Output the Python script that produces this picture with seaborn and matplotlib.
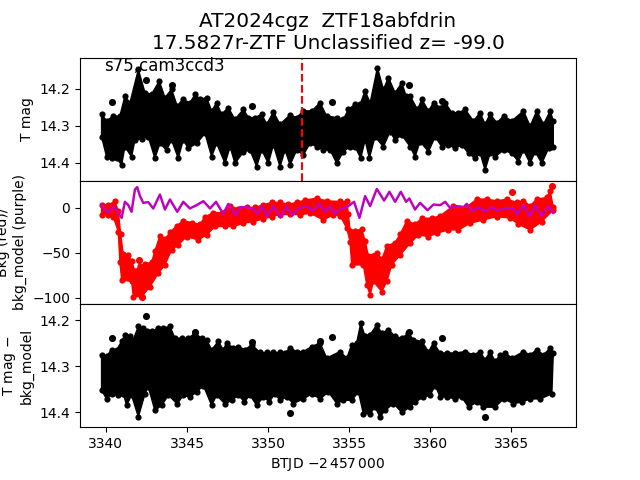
import numpy as np
import matplotlib
matplotlib.use('Agg')
import matplotlib.pyplot as plt
import seaborn as sns

# valeurs : bords haut et bas de chaque nuage de points
top_t_hi = [3339.73,3340.04,3340.45,3340.86,3341.17,3341.48,3342.0,3342.41,3342.82,3343.29,3343.64,3344.05,3344.40,3344.73,3345.18,3345.51,3345.80,3346.21,3346.52,3346.83,3347.14,3347.55,3347.96,3348.48,3348.79,3349.20,3349.61,3349.92,3350.33,3350.74,3351.36,3351.77,3352.18,3352.70,3353.21,3353.62,3354.24,3354.65,3354.96,3355.37,3355.68,3355.99,3356.30,3356.75,3357.12,3357.43,3357.84,3358.25,3358.52,3358.77,3359.22,3359.49,3359.90,3360.21,3360.62,3360.93,3361.34,3361.75,3362.16,3362.67,3363.09,3363.39,3363.70,3364.12,3364.53,3365.04,3365.76,3366.17,3366.58,3367.0,3367.41,3367.6]
top_hi = [14.261,14.279,14.266,14.266,14.212,14.230,14.140,14.203,14.207,14.171,14.216,14.194,14.239,14.221,14.230,14.207,14.221,14.216,14.252,14.230,14.261,14.243,14.275,14.248,14.270,14.270,14.261,14.288,14.255,14.288,14.263,14.270,14.252,14.252,14.230,14.266,14.270,14.275,14.248,14.234,14.234,14.198,14.230,14.135,14.194,14.162,14.203,14.176,14.212,14.212,14.248,14.221,14.252,14.230,14.243,14.230,14.257,14.257,14.248,14.279,14.257,14.288,14.261,14.284,14.266,14.279,14.252,14.293,14.252,14.288,14.252,14.279]
top_t_lo = [3339.73,3340.04,3340.35,3340.66,3340.97,3341.17,3341.58,3341.79,3342.20,3342.61,3343.02,3343.33,3343.74,3344.05,3344.46,3344.77,3345.08,3345.60,3346.11,3346.52,3346.83,3347.35,3347.66,3347.96,3348.48,3348.89,3349.30,3349.61,3350.02,3350.33,3350.74,3351.05,3351.36,3351.77,3352.18,3352.59,3353.0,3353.42,3353.83,3354.24,3354.65,3355.06,3355.37,3355.72,3355.99,3356.25,3356.60,3357.12,3357.53,3357.84,3358.25,3358.77,3359.07,3359.38,3359.90,3360.31,3360.72,3361.13,3361.54,3361.95,3362.37,3362.78,3363.09,3363.39,3363.70,3364.01,3364.53,3365.04,3365.45,3365.76,3366.17,3366.48,3366.89,3367.31,3367.6]
top_lo = [14.338,14.392,14.396,14.396,14.414,14.365,14.392,14.347,14.343,14.338,14.396,14.356,14.374,14.347,14.396,14.347,14.369,14.356,14.329,14.392,14.356,14.410,14.365,14.410,14.379,14.374,14.419,14.374,14.410,14.360,14.419,14.374,14.414,14.374,14.387,14.356,14.365,14.374,14.374,14.410,14.378,14.365,14.365,14.396,14.347,14.396,14.338,14.365,14.324,14.347,14.333,14.365,14.392,14.351,14.378,14.338,14.365,14.360,14.369,14.360,14.383,14.396,14.383,14.428,14.383,14.392,14.374,14.383,14.405,14.374,14.410,14.378,14.410,14.369,14.365]
top_out_t = [3340.39,3342.47,3344.05,3348.99,3353.93,3358.72,3360.72]
top_out = [14.237,14.176,14.189,14.246,14.236,14.189,14.232]

bkg_t_hi = [3339.73,3340.14,3340.55,3340.76,3340.91,3341.07,3341.38,3341.58,3341.79,3342.10,3342.41,3342.82,3343.02,3343.33,3343.64,3343.95,3344.36,3344.77,3345.29,3345.80,3346.11,3346.63,3347.14,3347.66,3348.17,3348.68,3349.20,3349.71,3350.23,3350.74,3351.26,3351.77,3352.28,3353.0,3353.62,3354.44,3354.86,3354.96,3355.06,3355.37,3355.78,3355.99,3356.19,3356.71,3357.02,3357.33,3357.84,3358.15,3358.56,3359.07,3359.49,3360.10,3360.62,3361.44,3362.26,3362.88,3363.50,3364.12,3364.73,3365.35,3365.76,3366.17,3366.58,3367.20,3367.41,3367.6]
bkg_hi = [6.7,6.7,10.4,0,-26,-48,-49,-55.6,-66.7,-61,-59,-57,-44.4,-27.8,-31.5,-24,-16.7,-11,-13,-15,-6.7,-1.9,-1.9,5.6,1.9,3.7,3.7,6.7,9.3,9.3,7.4,9.3,11.9,14,11,10.4,10.4,-3.7,-22,-22,-20.4,-33.3,-50,-46.3,-53.7,-38.9,-35.2,-26,-11,-14.8,-8.2,-8.2,-5.6,5.6,4.4,13,13,11,13,9.3,11,5.6,13,14.8,22,3.7]
bkg_t_lo = [3339.73,3340.14,3340.45,3340.76,3340.86,3340.97,3341.58,3341.69,3342.2,3342.72,3343.23,3343.64,3344.05,3344.46,3344.98,3345.70,3346.21,3346.73,3347.35,3347.86,3348.48,3349.09,3349.71,3350.23,3350.74,3351.36,3351.98,3352.59,3353.42,3354.03,3354.44,3354.86,3355.06,3355.16,3355.88,3356.09,3356.30,3356.5,3357.02,3357.33,3357.63,3358.15,3358.77,3359.28,3359.90,3360.41,3361.13,3361.75,3362.47,3363.29,3364.12,3364.94,3365.45,3366.17,3366.89,3367.6]
bkg_lo = [-11,-11,-13,-29.6,-63,-83.3,-85,-101.9,-101.9,-90.7,-76,-66.7,-50,-44.4,-35.2,-38.9,-33.3,-24,-24,-24,-20.4,-18.5,-15.6,-13,-11,-10.4,-11,-9.3,-16.7,-11,-11.9,-26,-40.7,-66.7,-66.7,-88.9,-100,-85,-96.3,-85,-66.7,-55.6,-42.6,-33.3,-35.2,-31.5,-27.8,-27.8,-20.4,-16.7,-13,-14.8,-21.5,-27.8,-18.5,-5.6]
bkg_out_t = [3342.06,3342.2,3365.04,3367.51]
bkg_out = [-58,-99,17.4,24]

model_t = [3339.73,3339.94,3340.14,3340.35,3340.55,3340.76,3340.97,3341.17,3341.38,3341.58,3341.79,3341.93,3342.10,3342.30,3342.61,3342.92,3343.33,3343.64,3343.95,3344.40,3344.77,3345.18,3345.60,3346.01,3346.42,3346.79,3347.24,3347.55,3348.0,3348.27,3348.68,3349.09,3349.30,3349.61,3349.92,3350.33,3350.78,3351.15,3351.50,3351.87,3352.39,3352.76,3353.17,3353.52,3353.83,3354.14,3354.44,3354.86,3355.31,3355.64,3355.99,3356.30,3356.71,3357.16,3357.49,3357.84,3358.19,3358.52,3358.72,3359.07,3359.38,3359.84,3360.21,3360.62,3360.93,3361.23,3361.65,3362.06,3362.26,3362.57,3362.98,3363.39,3363.81,3364.12,3364.63,3365.14,3365.35,3365.76,3366.17,3366.48,3366.89,3367.31,3367.6]
model = [3.7,-1.9,-5.6,0,.7,-5.6,-11.1,6.7,3,-4.4,20.4,23,13,5.6,6.3,-.7,14.8,-1.9,9.3,-4.4,6.7,-.7,3,7.4,-.7,6.7,-6.7,4.4,-8.5,.7,.7,-.7,-6.7,1.9,-9.3,1.9,-10.4,1.9,-8.2,-.7,1.9,-3.7,4.4,-4.4,1.9,-6.7,-.7,.7,6.7,-11.1,13,1.9,21,8.1,17.8,6.7,17.8,6.7,10.4,-1.9,5.6,-2.6,3.7,3,6.7,0,1.9,.7,4.4,-3.7,.7,-3.7,.7,-3,-.7,-.7,-7.4,3,-9.3,3,-9.3,1.9,-5.6]

sub_t_hi = [3339.73,3340.04,3340.35,3340.66,3340.97,3341.17,3341.48,3341.69,3342.0,3342.31,3342.51,3342.82,3343.23,3343.54,3343.95,3344.26,3344.67,3345.08,3345.49,3345.90,3346.21,3346.52,3346.93,3347.24,3347.45,3347.86,3348.17,3348.58,3348.99,3349.51,3349.92,3350.33,3350.74,3351.05,3351.36,3351.77,3352.18,3352.70,3353.21,3353.62,3354.44,3354.86,3355.16,3355.47,3355.72,3355.99,3356.30,3356.71,3357.02,3357.43,3357.84,3358.25,3358.66,3358.97,3359.49,3359.90,3360.21,3360.62,3361.03,3361.54,3362.16,3362.67,3363.09,3363.39,3363.70,3364.01,3364.32,3364.63,3365.04,3365.76,3366.17,3366.58,3367.0,3367.41,3367.6]
sub_hi = [14.269,14.272,14.258,14.258,14.240,14.225,14.229,14.236,14.207,14.211,14.218,14.218,14.211,14.211,14.207,14.233,14.233,14.233,14.222,14.233,14.236,14.258,14.240,14.258,14.243,14.254,14.251,14.258,14.247,14.264,14.264,14.264,14.264,14.265,14.254,14.262,14.262,14.251,14.243,14.276,14.262,14.276,14.247,14.243,14.200,14.229,14.225,14.204,14.222,14.214,14.229,14.233,14.222,14.236,14.240,14.262,14.243,14.265,14.265,14.265,14.262,14.269,14.262,14.280,14.262,14.283,14.269,14.265,14.276,14.262,14.269,14.258,14.269,14.254,14.265]
sub_t_lo = [3339.73,3340.04,3340.35,3340.76,3341.07,3341.28,3341.58,3342.0,3342.41,3342.61,3343.02,3343.44,3343.85,3344.40,3344.77,3345.18,3345.60,3346.01,3346.52,3346.83,3347.35,3347.76,3348.17,3348.54,3348.89,3349.30,3349.71,3350.08,3350.43,3350.74,3351.15,3351.56,3352.18,3352.70,3353.21,3353.73,3354.24,3354.65,3355.16,3355.58,3355.88,3356.30,3356.60,3356.91,3357.22,3357.74,3358.25,3358.77,3359.07,3359.59,3360.0,3360.31,3360.62,3361.03,3361.54,3361.95,3362.37,3362.88,3363.29,3364.01,3364.53,3365.14,3365.66,3366.17,3366.79,3367.51]
sub_lo = [14.359,14.378,14.367,14.370,14.367,14.392,14.370,14.417,14.367,14.352,14.403,14.392,14.370,14.389,14.370,14.374,14.363,14.349,14.392,14.370,14.389,14.381,14.370,14.384,14.370,14.392,14.374,14.384,14.367,14.381,14.374,14.388,14.378,14.367,14.378,14.363,14.388,14.381,14.381,14.363,14.410,14.410,14.396,14.417,14.403,14.388,14.407,14.396,14.385,14.374,14.370,14.349,14.374,14.374,14.378,14.374,14.396,14.385,14.396,14.396,14.378,14.388,14.385,14.378,14.378,14.367]
sub_out_t = [3340.39,3342.47,3345.51,3348.99,3351.36,3353.21,3353.93,3358.72,3360.72,3363.39]
sub_out = [14.240,14.191,14.225,14.247,14.403,14.246,14.236,14.225,14.240,14.410]

top_yticks = [14.2, 14.3, 14.4]
bkg_yticks = [-100, -50, 0]
sub_yticks = [14.2, 14.3, 14.4]


def nuage(ax, t_hi, hi, t_lo, lo, t_out, out, color, marge):
    # les bords lus sont les bords exterieurs des points : on rentre de la marge
    centre_hi = np.array(hi) + marge
    centre_lo = np.array(lo) - marge
    ax.fill(np.r_[t_hi, t_lo[::-1]], np.r_[centre_hi, centre_lo[::-1]], facecolor=color, edgecolor=color, lw=1)
    sns.scatterplot(x=t_hi, y=centre_hi, color=color, s=20, linewidth=0, ax=ax)
    sns.scatterplot(x=t_lo, y=centre_lo, color=color, s=20, linewidth=0, ax=ax)
    sns.scatterplot(x=t_out, y=out, color=color, s=26, linewidth=0, ax=ax)


fig, axes = plt.subplots(3, 1, sharex=True, figsize=(6.4, 4.8))
fig.subplots_adjust(hspace=0)

# ----------------------- T mag ------------------------
ax = axes[0]
nuage(ax, top_t_hi, top_hi, top_t_lo, top_lo, top_out_t, top_out, 'k', 0.008)
ax.axvline(3352.1, color='r', ls='--', lw=1.5)
ax.text(3339.9, 14.151, 's75,cam3ccd3', fontsize=12)
ax.set_ylim(14.449, 14.116)
ax.set_yticks(top_yticks)
ax.set_ylabel('T mag')
ax.set_title('AT2024cgz  ZTF18abfdrin\n17.5827r-ZTF Unclassified z= -99.0', fontsize=14.4)

# ----------------------- Bkg ------------------------
ax = axes[1]
nuage(ax, bkg_t_hi, bkg_hi, bkg_t_lo, bkg_lo, bkg_out_t, bkg_out, 'r', -3.3)
sns.lineplot(x=model_t, y=model, color='m', lw=1.75, estimator=None, sort=False, ax=ax)
ax.set_ylim(-106.7, 30)
ax.set_yticks(bkg_yticks)
ax.set_ylabel('Bkg (red)/\nbkg_model (purple)')

# ----------------------- T mag - bkg_model ------------------------
ax = axes[2]
nuage(ax, sub_t_hi, sub_hi, sub_t_lo, sub_lo, sub_out_t, sub_out, 'k', 0.0065)
ax.set_ylim(14.433, 14.165)
ax.set_yticks(sub_yticks)
ax.set_ylabel('T mag $-$\nbkg_model')
ax.set_xlabel(r'BTJD $-2\,457\,000$')
ax.set_xlim(3338.4, 3369.0)

axes[0].tick_params(bottom=False)
axes[1].tick_params(bottom=False)

fig.savefig('out.png', dpi=100)
